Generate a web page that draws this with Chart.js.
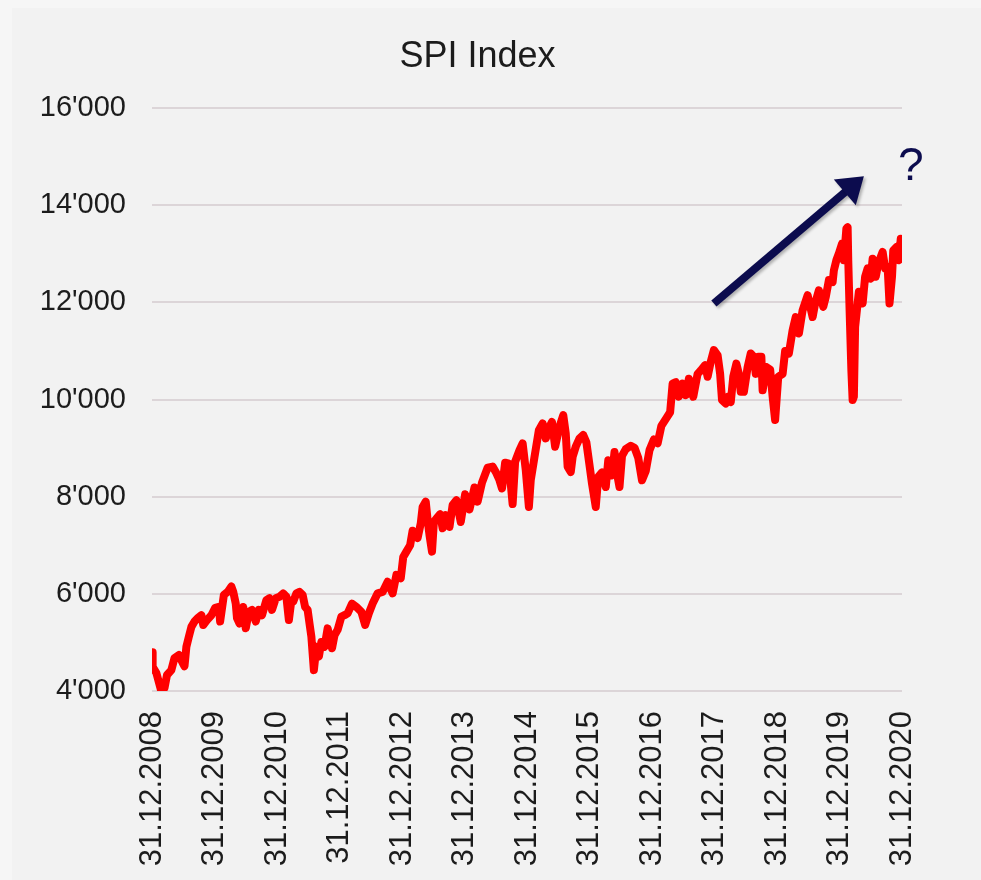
<!DOCTYPE html>
<html>
<head>
<meta charset="utf-8">
<script src="https://cdn.jsdelivr.net/npm/chart.js@4.4.1/dist/chart.umd.min.js"></script>
<style>
  html, body { margin: 0; padding: 0; background: #f6f6f6; }
  canvas { display: block; }
</style>
</head>
<body>
<canvas id="c" width="981" height="880"></canvas>
<script>
// ---- data ----
const chartTitle = 'SPI Index';
const xTickLabels = ['31.12.2008','31.12.2009','31.12.2010','31.12.2011','31.12.2012','31.12.2013','31.12.2014','31.12.2015','31.12.2016','31.12.2017','31.12.2018','31.12.2019','31.12.2020'];
const yTickValues = [4000, 6000, 8000, 10000, 12000, 14000, 16000];

// time in decimal years (2009.00 = 31.12.2008)
const timeYears = [
2009.00,2009.01,2009.07,2009.15,2009.20,2009.24,2009.31,2009.36,2009.43,2009.49,2009.52,2009.55,2009.59,2009.63,2009.68,2009.73,2009.79,2009.82,2009.88,2009.95,
2010.01,2010.07,2010.09,2010.15,2010.21,2010.27,2010.30,2010.34,2010.36,2010.40,2010.46,2010.50,2010.55,2010.60,2010.66,2010.71,2010.76,2010.83,2010.88,2010.92,2010.98,
2011.04,2011.10,2011.15,2011.19,2011.23,2011.26,2011.31,2011.36,2011.41,2011.45,2011.49,2011.52,2011.55,2011.59,2011.63,2011.67,2011.71,2011.76,2011.81,2011.88,2011.92,2011.97,
2012.03,2012.08,2012.13,2012.20,2012.27,2012.35,2012.41,2012.47,2012.53,2012.61,2012.69,2012.77,2012.85,2012.91,2012.98,
2013.02,2013.07,2013.13,2013.17,2013.25,2013.30,2013.33,2013.38,2013.41,2013.44,2013.48,2013.51,2013.55,2013.61,2013.65,2013.70,2013.76,2013.81,2013.87,2013.94,
2014.01,2014.08,2014.16,2014.21,2014.28,2014.37,2014.45,2014.50,2014.56,2014.60,2014.65,2014.71,2014.77,2014.81,2014.88,2014.93,2014.98,
2015.03,2015.06,2015.12,2015.19,2015.25,2015.30,2015.36,2015.40,2015.45,2015.52,2015.58,2015.62,2015.65,2015.70,2015.73,2015.78,2015.84,2015.90,2015.95,
2016.00,2016.04,2016.10,2016.14,2016.20,2016.26,2016.30,2016.36,2016.40,2016.43,2016.48,2016.52,2016.58,2016.66,2016.72,2016.78,2016.84,2016.90,2016.96,
2017.03,2017.09,2017.15,2017.23,2017.29,2017.33,2017.38,2017.43,2017.49,2017.54,2017.59,2017.66,2017.73,2017.78,2017.85,2017.89,2017.94,2017.99,
2018.05,2018.09,2018.12,2018.18,2018.22,2018.26,2018.30,2018.35,2018.39,2018.42,2018.47,2018.53,2018.58,2018.63,2018.66,2018.70,2018.75,2018.77,2018.83,2018.89,2018.93,2018.97,
2019.02,2019.09,2019.13,2019.19,2019.25,2019.30,2019.35,2019.41,2019.49,2019.57,2019.61,2019.67,2019.74,2019.78,2019.83,2019.89,2019.91,2019.95,2019.99,
2020.04,2020.07,2020.11,2020.13,2020.14,2020.16,2020.19,2020.21,2020.23,2020.25,2020.29,2020.31,2020.37,2020.41,2020.45,2020.50,2020.53,2020.58,2020.62,2020.69,2020.73,2020.77,2020.80,2020.84,2020.86,2020.91,2020.95,2020.98
];

const spiValues = [
4800,4500,4370,3990,4060,4330,4430,4680,4740,4580,4510,4910,5120,5320,5430,5500,5560,5360,5460,5560,
5710,5730,5430,5980,6040,6150,6040,5800,5500,5390,5730,5290,5630,5670,5430,5670,5560,5870,5910,5670,5910,
5940,6010,5940,5460,5870,5840,6010,6040,5980,5730,5670,5390,5120,4430,4910,4710,5010,4910,5290,4880,5150,5260,
5530,5560,5600,5800,5730,5630,5360,5600,5800,6010,6040,6250,6010,6390,6320,
6760,6870,7000,7300,7150,7450,7790,7900,7520,7210,6870,7480,7550,7640,7350,7620,7380,7830,7930,7480,
8050,7740,8190,7900,8290,8600,8620,8510,8340,8170,8700,8680,7850,8720,8960,9100,8550,
7790,8340,8820,9370,9510,9200,9440,9540,9030,9440,9680,9300,8620,8510,8820,9030,9200,9270,9120,
8650,8270,7790,8410,8500,8200,8750,8440,8920,8550,8200,8840,8980,9050,9010,8800,8340,8530,8960,
9180,9100,9460,9620,9740,10330,10360,10060,10330,10090,10430,10060,10530,10600,10710,10470,10780,11020,
10910,10530,9990,9920,10060,9950,10470,10740,10530,10160,10160,10670,10950,10880,10530,10880,10880,10190,10670,10620,10060,9580,
10470,10530,11000,10950,11430,11700,11360,11840,12150,11700,11980,12250,11910,12110,12460,12420,12660,12870,13010,
13210,12870,13520,13550,12870,11910,10600,9990,10060,11500,11980,12220,11980,12530,12700,12490,12900,12530,12800,13040,12700,12730,11980,12530,13070,13140,12870,13310
];

// annotation (arrow + question mark), in data units
const arrowFrom = [2017.99, 11980];
const arrowTo = [2020.39, 14600];
const questionMark = { x: 2021.14, y: 14530, text: '?' };

// ---- styles ----
const FONT = "'Liberation Sans', Arial, Helvetica, sans-serif";
const TEXT_COLOR = '#1c1c1c';
const NAVY = '#0c0c4e';

const points = timeYears.map((t, i) => ({ x: t, y: spiValues[i] }));

const fmtThousands = v => String(v).replace(/\B(?=(\d{3})+(?!\d))/g, "'");

const backgroundPlugin = {
  id: 'bgPanel',
  beforeDraw(chart) {
    const { ctx, width, height } = chart;
    ctx.save();
    ctx.fillStyle = '#f6f6f6';
    ctx.fillRect(0, 0, width, height);
    ctx.fillStyle = '#f2f2f2';
    ctx.fillRect(12, 8, width - 12, height - 8);
    ctx.restore();
  }
};

const annotationPlugin = {
  id: 'arrowAnnotation',
  afterDatasetsDraw(chart) {
    const { ctx } = chart;
    const xs = chart.scales.x, ys = chart.scales.y;
    const x1 = xs.getPixelForValue(arrowFrom[0]), y1 = ys.getPixelForValue(arrowFrom[1]);
    const x2 = xs.getPixelForValue(arrowTo[0]), y2 = ys.getPixelForValue(arrowTo[1]);
    const ang = Math.atan2(y2 - y1, x2 - x1);
    const headLen = 25, headHalf = 17;
    const bx = x2 - headLen * Math.cos(ang), by = y2 - headLen * Math.sin(ang);
    ctx.save();
    ctx.shadowColor = 'rgba(0,0,0,0.28)';
    ctx.shadowBlur = 3;
    ctx.shadowOffsetX = 2;
    ctx.shadowOffsetY = 2;
    ctx.strokeStyle = NAVY;
    ctx.fillStyle = NAVY;
    ctx.lineWidth = 8;
    ctx.lineCap = 'butt';
    ctx.beginPath();
    ctx.moveTo(x1, y1);
    ctx.lineTo(bx + 2 * Math.cos(ang), by + 2 * Math.sin(ang));
    ctx.stroke();
    ctx.beginPath();
    ctx.moveTo(x2, y2);
    ctx.lineTo(bx + headHalf * Math.sin(ang), by - headHalf * Math.cos(ang));
    ctx.lineTo(bx - headHalf * Math.sin(ang), by + headHalf * Math.cos(ang));
    ctx.closePath();
    ctx.fill();
    ctx.restore();

    ctx.save();
    ctx.fillStyle = NAVY;
    ctx.font = '46px ' + FONT;
    ctx.textAlign = 'center';
    ctx.textBaseline = 'alphabetic';
    ctx.fillText(questionMark.text, xs.getPixelForValue(questionMark.x), ys.getPixelForValue(questionMark.y));
    ctx.restore();
  }
};

new Chart(document.getElementById('c'), {
  type: 'line',
  data: {
    datasets: [{
      label: chartTitle,
      data: points,
      borderColor: '#ff0000',
      backgroundColor: '#ff0000',
      borderWidth: 8,
      pointRadius: 0,
      pointHoverRadius: 0,
      tension: 0,
      borderJoinStyle: 'round',
      borderCapStyle: 'round',
      fill: false
    }]
  },
  options: {
    responsive: false,
    animation: false,
    events: [],
    layout: { padding: { left: 12, right: 38, top: 0, bottom: 12 } },
    plugins: {
      legend: { display: false },
      tooltip: { enabled: false },
      title: {
        display: true,
        text: chartTitle,
        color: TEXT_COLOR,
        font: { family: FONT, size: 36, weight: 'normal' },
        padding: { top: 35, bottom: 30 }
      }
    },
    scales: {
      x: {
        type: 'linear',
        min: 2009,
        max: 2021,
        grid: { display: false, drawTicks: false },
        border: { display: false },
        ticks: {
          stepSize: 1,
          autoSkip: false,
          maxRotation: 90,
          minRotation: 90,
          padding: 20,
          color: TEXT_COLOR,
          font: { family: FONT, size: 31 },
          callback: v => xTickLabels[Math.round(v) - 2009]
        },
        afterFit: s => { s.height = 177; s.paddingRight = 79; }
      },
      y: {
        type: 'linear',
        min: yTickValues[0],
        max: yTickValues[yTickValues.length - 1],
        grid: { color: '#dcd5d8', lineWidth: 2, drawTicks: false },
        border: { display: false },
        ticks: {
          stepSize: 2000,
          padding: 26,
          color: TEXT_COLOR,
          font: { family: FONT, size: 29 },
          callback: v => fmtThousands(v)
        },
        afterFit: s => { s.width = 140; }
      }
    }
  },
  plugins: [backgroundPlugin, annotationPlugin]
});
</script>
</body>
</html>
